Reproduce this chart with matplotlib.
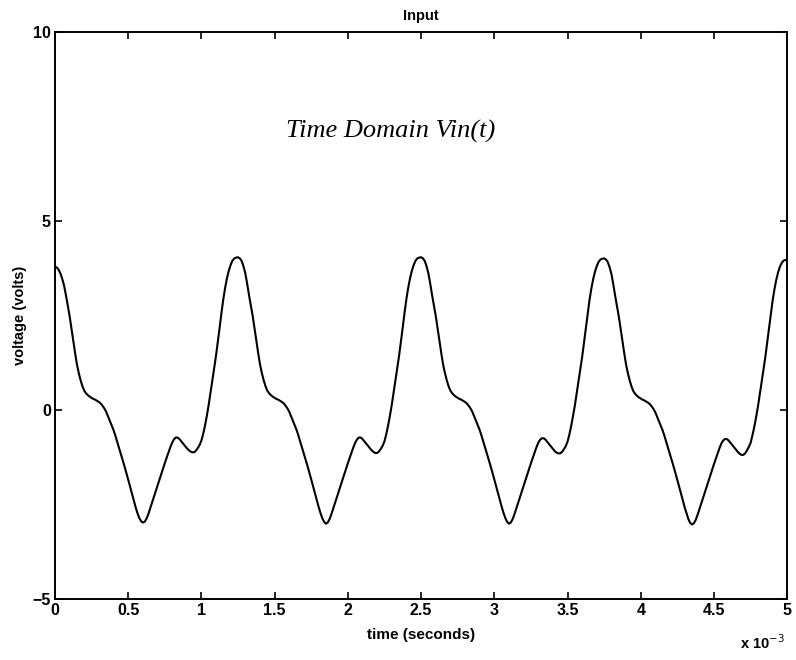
import numpy as np
import matplotlib
matplotlib.use('Agg')
import matplotlib.pyplot as plt

# voltage every 0.0125 ms, one list per 1.25 ms cycle
cycle_1 = [3.80, 3.78, 3.72, 3.62, 3.48, 3.30, 3.05, 2.78, 2.50, 2.18,
           1.85, 1.52, 1.22, 0.99, 0.80, 0.64, 0.52, 0.45, 0.40, 0.36,
           0.33, 0.30, 0.28, 0.25, 0.22, 0.18, 0.12, 0.05, -0.04, -0.16,
           -0.28, -0.40, -0.52, -0.67, -0.83, -0.99, -1.15, -1.31, -1.48, -1.65,
           -1.83, -2.01, -2.20, -2.38, -2.55, -2.71, -2.84, -2.93, -2.97, -2.95,
           -2.87, -2.75, -2.60, -2.45, -2.30, -2.15, -2.00, -1.85, -1.70, -1.55,
           -1.40, -1.26, -1.12, -0.98, -0.86, -0.77, -0.72, -0.72, -0.76, -0.82,
           -0.88, -0.94, -1.00, -1.05, -1.09, -1.11, -1.11, -1.07, -1.00, -0.92,
           -0.80, -0.62, -0.40, -0.14, 0.15, 0.47, 0.80, 1.12, 1.45, 1.82,
           2.20, 2.59, 2.95, 3.25, 3.50, 3.70, 3.85, 3.96, 4.02, 4.04]
cycle_2 = [4.05, 4.02, 3.95, 3.81, 3.62, 3.35, 3.05, 2.78, 2.50, 2.18,
           1.85, 1.52, 1.22, 0.99, 0.80, 0.64, 0.52, 0.45, 0.40, 0.36,
           0.33, 0.30, 0.28, 0.25, 0.22, 0.18, 0.12, 0.05, -0.04, -0.16,
           -0.28, -0.40, -0.52, -0.67, -0.83, -0.99, -1.15, -1.31, -1.48, -1.65,
           -1.83, -2.01, -2.20, -2.38, -2.55, -2.71, -2.85, -2.95, -3.00, -2.97,
           -2.88, -2.75, -2.60, -2.45, -2.30, -2.15, -2.00, -1.85, -1.70, -1.55,
           -1.40, -1.26, -1.12, -0.98, -0.86, -0.77, -0.72, -0.72, -0.76, -0.82,
           -0.88, -0.94, -1.00, -1.06, -1.10, -1.13, -1.13, -1.09, -1.02, -0.94,
           -0.82, -0.63, -0.40, -0.14, 0.15, 0.47, 0.80, 1.12, 1.45, 1.82,
           2.20, 2.59, 2.95, 3.25, 3.50, 3.70, 3.85, 3.96, 4.02, 4.04]
cycle_3 = [4.05, 4.02, 3.95, 3.81, 3.62, 3.35, 3.05, 2.78, 2.50, 2.18,
           1.85, 1.52, 1.22, 0.99, 0.80, 0.64, 0.52, 0.45, 0.40, 0.36,
           0.33, 0.30, 0.28, 0.25, 0.22, 0.18, 0.12, 0.05, -0.04, -0.16,
           -0.28, -0.40, -0.52, -0.67, -0.83, -0.99, -1.15, -1.31, -1.48, -1.65,
           -1.83, -2.01, -2.20, -2.38, -2.55, -2.71, -2.85, -2.95, -3.00, -2.97,
           -2.88, -2.75, -2.60, -2.45, -2.30, -2.15, -2.00, -1.85, -1.70, -1.55,
           -1.40, -1.26, -1.12, -0.98, -0.86, -0.78, -0.74, -0.74, -0.78, -0.84,
           -0.90, -0.96, -1.02, -1.08, -1.12, -1.14, -1.14, -1.10, -1.03, -0.95,
           -0.83, -0.64, -0.41, -0.15, 0.13, 0.45, 0.78, 1.10, 1.42, 1.80,
           2.18, 2.56, 2.92, 3.22, 3.47, 3.67, 3.82, 3.93, 3.99, 4.01]
cycle_4 = [4.02, 3.99, 3.92, 3.78, 3.60, 3.33, 3.03, 2.76, 2.48, 2.16,
           1.83, 1.50, 1.20, 0.97, 0.78, 0.62, 0.50, 0.43, 0.38, 0.34,
           0.31, 0.28, 0.26, 0.23, 0.20, 0.16, 0.10, 0.03, -0.06, -0.18,
           -0.30, -0.42, -0.54, -0.69, -0.85, -1.01, -1.17, -1.33, -1.50, -1.67,
           -1.85, -2.03, -2.22, -2.40, -2.57, -2.73, -2.88, -2.98, -3.02, -2.99,
           -2.90, -2.77, -2.62, -2.47, -2.32, -2.17, -2.02, -1.87, -1.72, -1.57,
           -1.42, -1.28, -1.14, -1.00, -0.88, -0.80, -0.76, -0.76, -0.80, -0.86,
           -0.92, -0.98, -1.04, -1.10, -1.15, -1.18, -1.18, -1.14, -1.06, -0.97,
           -0.86, -0.66, -0.44, -0.18, 0.10, 0.42, 0.75, 1.07, 1.40, 1.77,
           2.15, 2.53, 2.90, 3.20, 3.45, 3.65, 3.80, 3.90, 3.96, 3.98]
end_value = [3.97]

volts = np.array(cycle_1 + cycle_2 + cycle_3 + cycle_4 + end_value)
time_ms = np.linspace(0, 5, len(volts))

xtick_ms = [0, 0.5, 1, 1.5, 2, 2.5, 3, 3.5, 4, 4.5, 5]
xtick_labels = ['0', '0.5', '1', '1.5', '2', '2.5', '3', '3.5', '4', '4.5', '5']
ytick_vals = [-5, 0, 5, 10]

plt.rcParams['font.family'] = ['Liberation Sans', 'DejaVu Sans']

fig = plt.figure(figsize=(7.96, 6.60), dpi=100)
ax = fig.add_axes([0.069, 0.092, 0.92, 0.859])

ax.plot(time_ms * 1e-3, volts, color='black', linewidth=1.5,
        solid_joinstyle='round')

ax.set_xlim(0, 5e-3)
ax.set_ylim(-5, 10)
ax.set_xticks([v * 1e-3 for v in xtick_ms])
ax.set_xticklabels(xtick_labels)
ax.set_yticks(ytick_vals)

ax.tick_params(direction='in', top=True, right=True, length=5, width=1.2,
               labelsize=11.5, pad=3)
for lab in ax.get_xticklabels() + ax.get_yticklabels():
    lab.set_fontweight('bold')
for sp in ax.spines.values():
    sp.set_linewidth(1.4)

ax.set_title('Input', fontsize=10.5, fontweight='bold', pad=9)
ax.set_xlabel('time (seconds)', fontsize=11, fontweight='bold', labelpad=7)
ax.set_ylabel('voltage (volts)', fontsize=10.5, fontweight='bold', labelpad=4)

fig.text(740 / 796, 1 - 643 / 660, r'x 10$^{-3}$', fontsize=10.5,
         fontweight='bold', ha='left', va='center')

# handwritten note on the scan
ax.text(0.458, 0.826, 'Time Domain Vin(t)', transform=ax.transAxes,
        fontsize=19, family='Liberation Serif', style='italic',
        ha='center', va='center')

fig.savefig('out.png', dpi=100)
